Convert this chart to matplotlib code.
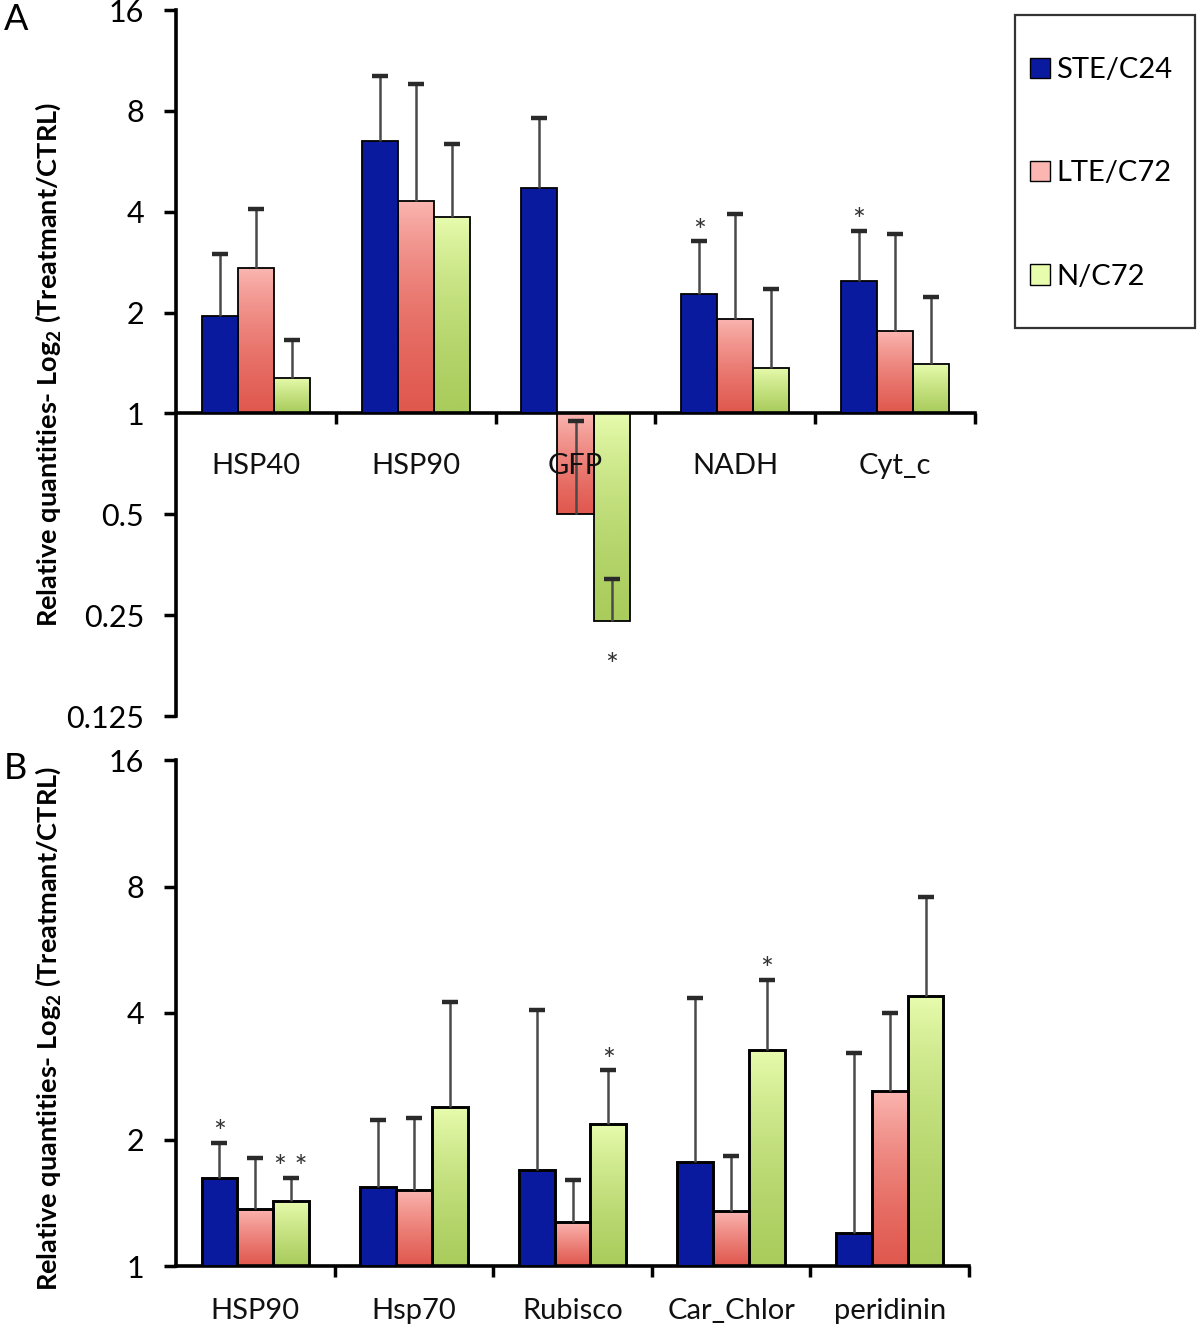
import numpy as np
import matplotlib
matplotlib.use("Agg")
import matplotlib.pyplot as plt
from matplotlib.colors import LinearSegmentedColormap
from matplotlib.patches import Patch, Rectangle

plt.rcParams["font.family"] = ["Lato", "DejaVu Sans"]
plt.rcParams["mathtext.fontset"] = "custom"
plt.rcParams["mathtext.rm"] = "Lato"
plt.rcParams["mathtext.bf"] = "Lato:bold"

# ---------------------------------------------------------------- data
series = ["STE/C24", "LTE/C72", "N/C72"]

genes_a = ["HSP40", "HSP90", "GFP", "NADH", "Cyt_c"]
ste_a = [1.95, 6.5, 4.7, 2.28, 2.48]
lte_a = [2.71, 4.3, 0.5, 1.92, 1.76]
n_a = [1.28, 3.87, 0.24, 1.37, 1.40]
# error bar cap positions (relative quantity)
ste_a_cap = [3.0, 10.2, 7.6, 3.26, 3.5]
lte_a_cap = [4.07, 9.6, 0.95, 3.95, 3.43]
n_a_cap = [1.66, 6.36, 0.32, 2.35, 2.23]

genes_b = ["HSP90", "Hsp70", "Rubisco", "Car_Chlor", "peridinin"]
ste_b = [1.62, 1.54, 1.69, 1.77, 1.20]
lte_b = [1.37, 1.52, 1.27, 1.35, 2.61]
n_b = [1.43, 2.39, 2.18, 3.27, 4.40]
ste_b_cap = [1.96, 2.23, 4.06, 4.35, 3.21]
lte_b_cap = [1.81, 2.25, 1.60, 1.83, 4.0]
n_b_cap = [1.62, 4.24, 2.92, 4.79, 7.55]

# significance marks: (gene index, series index, label)
sig_a = [(2, 2, "*"), (3, 0, "*"), (4, 0, "*")]
sig_b = [(0, 0, "*"), (0, 2, "* *"), (2, 2, "*"), (3, 2, "*")]

yticks_a = [0.125, 0.25, 0.5, 1, 2, 4, 8, 16]
yticks_b = [1, 2, 4, 8, 16]
ytick_labels_a = ["0.125", "0.25", "0.5", "1", "2", "4", "8", "16"]
ytick_labels_b = ["1", "2", "4", "8", "16"]

BLUE = "#0a1a9e"
PINK = ("#e0584e", "#fbb6b1")   # bottom, top
GREEN = ("#a9cc5c", "#e8fcae")
BAR_W = 0.226
OFFSETS = [-BAR_W, 0.0, BAR_W]


def gradient_bars(ax, bars, colors):
    cmap = LinearSegmentedColormap.from_list("g", list(colors))
    grad = np.linspace(0, 1, 256).reshape(-1, 1)
    for p in bars:
        x0 = p.get_x()
        x1 = x0 + p.get_width()
        y0 = p.get_y()
        y1 = y0 + p.get_height()
        lo, hi = min(y0, y1), max(y0, y1)
        im = ax.imshow(grad, extent=[x0, x1, lo, hi], origin="lower", cmap=cmap,
                       aspect="auto", zorder=2.5, interpolation="bilinear")
        im.set_clip_path(p)


def panel(ax, genes, vals, caps, sig, ymin, yticks, ylabels, lw_edge, lab_pad):
    x = np.arange(len(genes)) + 0.5
    ax.set_yscale("log", base=2)
    face = [BLUE, "none", "none"]
    for i, (v, c) in enumerate(zip(vals, caps)):
        v = np.asarray(v, float)
        c = np.asarray(c, float)
        xi = x + OFFSETS[i]
        bars = ax.bar(xi, v - 1, bottom=1, width=BAR_W, color=face[i],
                      edgecolor="black", linewidth=lw_edge, zorder=3)
        if i == 1:
            gradient_bars(ax, bars, PINK)
        elif i == 2:
            gradient_bars(ax, bars, GREEN)
        # one-sided error bars: line from bar end to the cap
        ax.vlines(xi, v, c, color="#4a4a4a", linewidth=1.8, zorder=4)
        ax.plot(xi, c, linestyle="none", marker="_", markersize=11,
                markeredgewidth=3.2, color="#2a2a2a", zorder=4)
    for g, s, lab in sig:
        v = vals[s][g]
        c = caps[s][g]
        xi = x[g] + OFFSETS[s]
        if v < 1:
            ax.annotate(lab, (xi, v), xytext=(0, -22), textcoords="offset points",
                        ha="center", va="top", fontsize=22, color="#333333",
                        zorder=6)
        else:
            ax.annotate(lab, (xi, c), xytext=(0, -3), textcoords="offset points",
                        ha="center", va="bottom", fontsize=22, color="#333333",
                        zorder=6)
    for xi, name in zip(x, genes):
        ax.annotate(name, (xi, 1), xytext=(0, -lab_pad), textcoords="offset points",
                    ha="center", va="top", fontsize=21, color="#111111", zorder=10,
                    annotation_clip=False)

    ax.set_xlim(0, len(genes))
    ax.set_ylim(ymin, 16)
    ax.set_yticks(yticks)
    ax.set_yticklabels(ylabels)
    ax.yaxis.set_minor_locator(matplotlib.ticker.NullLocator())
    ax.set_xticks(np.arange(1, len(genes) + 1))
    ax.set_xticklabels([])
    ax.tick_params(axis="y", which="major", direction="out", length=9, width=2.5,
                   labelsize=22, pad=14)
    ax.tick_params(axis="x", which="major", direction="out", length=8, width=2.5)
    for sp in ("top", "right"):
        ax.spines[sp].set_visible(False)
    for sp in ("left", "bottom"):
        ax.spines[sp].set_linewidth(2.6)
    ax.spines["bottom"].set_position(("data", 1))


fig = plt.figure(figsize=(12, 13.35), dpi=100)

ax_a = fig.add_axes([176 / 1200, 1 - 716 / 1335, 799 / 1200, 706 / 1335])
panel(ax_a, genes_a, [ste_a, lte_a, n_a], [ste_a_cap, lte_a_cap, n_a_cap], sig_a,
      0.125, yticks_a, ytick_labels_a, 1.3, 28.5)

ax_b = fig.add_axes([176 / 1200, 1 - 1266 / 1335, 793 / 1200, 506 / 1335])
panel(ax_b, genes_b, [ste_b, lte_b, n_b], [ste_b_cap, lte_b_cap, n_b_cap], sig_b,
      1, yticks_b, ytick_labels_b, 2.1, 23)

ylab = r"Relative quantities- Log$_\mathbf{2}$ (Treatmant/CTRL)"
fig.text(48 / 1200, 1 - 364 / 1335, ylab, rotation=90, ha="center", va="center",
         fontsize=19.5, fontweight="bold")
fig.text(48 / 1200, 1 - 1028 / 1335, ylab, rotation=90, ha="center", va="center",
         fontsize=19.5, fontweight="bold")

fig.text(4 / 1200, 1 - 20 / 1335, "A", fontsize=26, ha="left", va="center")
fig.text(4 / 1200, 1 - 768 / 1335, "B", fontsize=26, ha="left", va="center")

# legend: entries without frame, box drawn separately
fig.patches.append(Rectangle((1015 / 1200, 1 - 328 / 1335), 180 / 1200, 313 / 1335,
                             transform=fig.transFigure, fill=False,
                             edgecolor="#333333", linewidth=1.6))
handles = [Patch(facecolor=BLUE, edgecolor="black"),
           Patch(facecolor=PINK[1], edgecolor="black"),
           Patch(facecolor=GREEN[1], edgecolor="black")]
fig.legend(handles, series, loc="upper left",
           bbox_to_anchor=(1030 / 1200, 1 - 57 / 1335), fontsize=21,
           frameon=False, handlelength=0.7, handleheight=0.7, handletextpad=0.2,
           labelspacing=2.65, borderpad=0, borderaxespad=0)

fig.savefig("out.png", dpi=100)
